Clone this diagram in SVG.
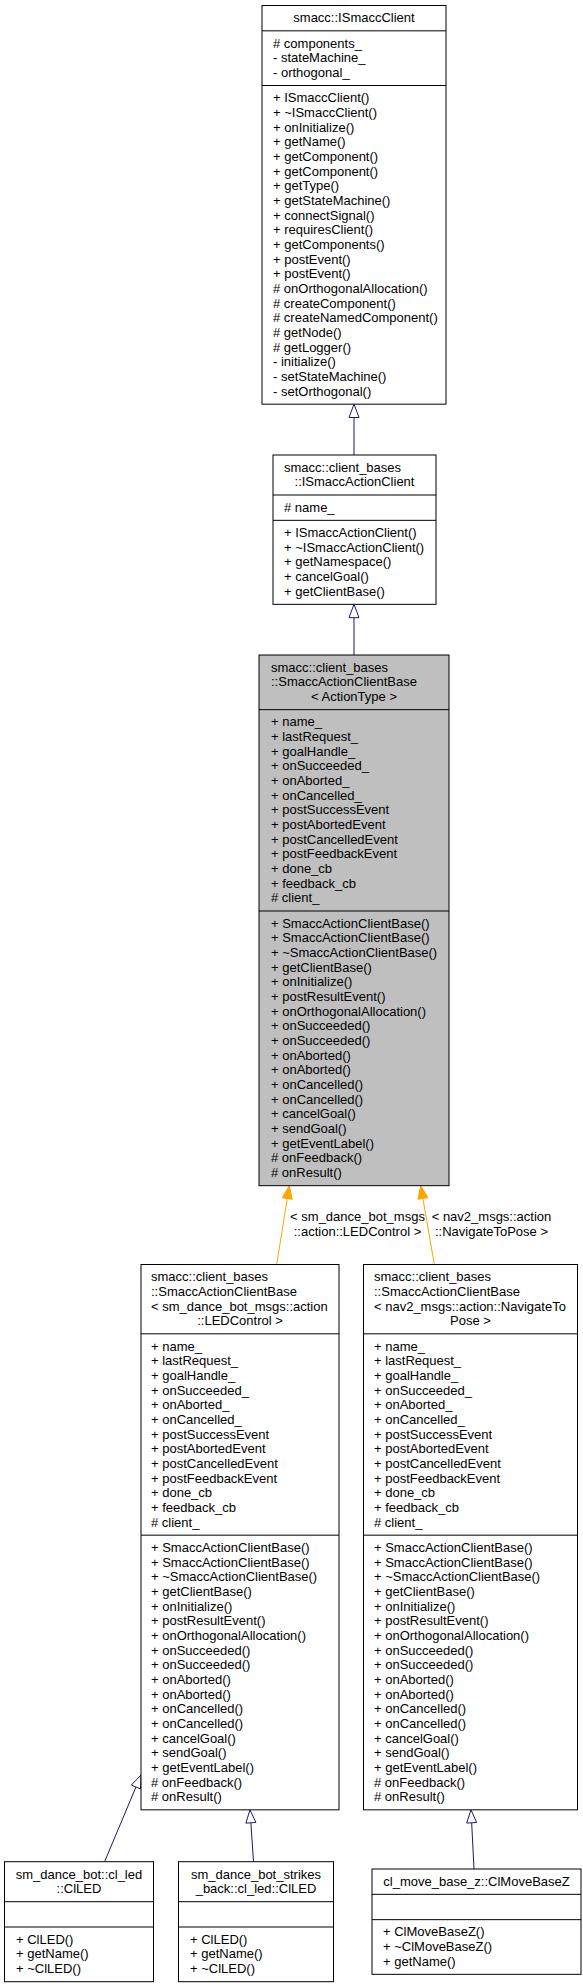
<svg xmlns="http://www.w3.org/2000/svg" width="583" height="1987" viewBox="0 0 583 1987">
<style>
text{font-family:"Liberation Sans",Arial,Helvetica,sans-serif;font-size:13px;fill:#000}
.box{fill:#fff;stroke:#000;stroke-width:1}
.gray{fill:#bfbfbf;stroke:#000;stroke-width:1}
.sep{stroke:#000;stroke-width:1;fill:none}
.c{text-anchor:middle}
.inh{stroke:#191970;stroke-width:1;fill:none}
.inhhead{stroke:#191970;stroke-width:1;fill:#fff}
.tpl{stroke:#FFA500;stroke-width:1;fill:none}
.tplhead{stroke:#FFA500;stroke-width:1;fill:#FFA500}
</style>
<rect width="583" height="1987" fill="#fff"/>
<g id="connectors">
<line class="inh" x1="354" y1="417.5" x2="354" y2="455"/>
<polygon class="inhhead" points="354,404.2 359,417.5 349,417.5"/>
<line class="inh" x1="354" y1="617.7" x2="354" y2="655"/>
<polygon class="inhhead" points="354,604.3 359,617.7 349,617.7"/>
<line class="tpl" x1="276.7" y1="1264.5" x2="287.25" y2="1198.5"/>
<polygon class="tplhead" points="289.3,1185.7 292.19,1199.3 282.31,1197.7"/>
<line class="tpl" x1="434.3" y1="1264.5" x2="422.9" y2="1198.5"/>
<polygon class="tplhead" points="420.7,1185.7 427.84,1197.62 417.98,1199.32"/>
<text class="c" x="357.5" y="1221">&lt; sm_dance_bot_msgs</text>
<text class="c" x="357.5" y="1236">::action::LEDControl &gt;</text>
<text class="c" x="491.5" y="1221">&lt; nav2_msgs::action</text>
<text class="c" x="491.5" y="1236">::NavigateToPose &gt;</text>
<line class="inh" x1="135.97" y1="1787" x2="104.6" y2="1861.7"/>
<polygon class="inhhead" points="141,1775 140.58,1788.93 131.36,1785.05"/>
<line class="inh" x1="250.87" y1="1822.8" x2="253.5" y2="1861.7"/>
<polygon class="inhhead" points="250,1809.8 255.86,1822.46 245.88,1823.14"/>
<line class="inh" x1="471.66" y1="1822.8" x2="474" y2="1869"/>
<polygon class="inhhead" points="471,1809.8 476.65,1822.56 466.67,1823.06"/>
</g>
<g id="node_ISmaccClient">
<rect class="box" x="262" y="5.5" width="184" height="398.67"/>
<line class="sep" x1="262" y1="30.83" x2="446" y2="30.83"/>
<line class="sep" x1="262" y1="85.5" x2="446" y2="85.5"/>
<text class="c" x="354" y="22.3">smacc::ISmaccClient</text>
<text><tspan x="273" y="47.63"># components_</tspan><tspan x="273" dy="14.667">- stateMachine_</tspan><tspan x="273" dy="14.667">- orthogonal_</tspan></text>
<text><tspan x="273" y="102.3">+ ISmaccClient()</tspan><tspan x="273" dy="14.667">+ ~ISmaccClient()</tspan><tspan x="273" dy="14.667">+ onInitialize()</tspan><tspan x="273" dy="14.667">+ getName()</tspan><tspan x="273" dy="14.667">+ getComponent()</tspan><tspan x="273" dy="14.667">+ getComponent()</tspan><tspan x="273" dy="14.667">+ getType()</tspan><tspan x="273" dy="14.667">+ getStateMachine()</tspan><tspan x="273" dy="14.667">+ connectSignal()</tspan><tspan x="273" dy="14.667">+ requiresClient()</tspan><tspan x="273" dy="14.667">+ getComponents()</tspan><tspan x="273" dy="14.667">+ postEvent()</tspan><tspan x="273" dy="14.667">+ postEvent()</tspan><tspan x="273" dy="14.667"># onOrthogonalAllocation()</tspan><tspan x="273" dy="14.667"># createComponent()</tspan><tspan x="273" dy="14.667"># createNamedComponent()</tspan><tspan x="273" dy="14.667"># getNode()</tspan><tspan x="273" dy="14.667"># getLogger()</tspan><tspan x="273" dy="14.667">- initialize()</tspan><tspan x="273" dy="14.667">- setStateMachine()</tspan><tspan x="273" dy="14.667">- setOrthogonal()</tspan></text>
</g>
<g id="node_ISmaccActionClient">
<rect class="box" x="273" y="455" width="163" height="149.33"/>
<line class="sep" x1="273" y1="495" x2="436" y2="495"/>
<line class="sep" x1="273" y1="520.33" x2="436" y2="520.33"/>
<text x="284" y="471.8">smacc::client_bases</text>
<text class="c" x="354.5" y="486.47">::ISmaccActionClient</text>
<text x="284" y="512.13"># name_</text>
<text><tspan x="284" y="537.13">+ ISmaccActionClient()</tspan><tspan x="284" dy="14.667">+ ~ISmaccActionClient()</tspan><tspan x="284" dy="14.667">+ getNamespace()</tspan><tspan x="284" dy="14.667">+ cancelGoal()</tspan><tspan x="284" dy="14.667">+ getClientBase()</tspan></text>
</g>
<g id="node_SmaccActionClientBase">
<rect class="gray" x="259" y="655" width="190" height="530.67"/>
<line class="sep" x1="259" y1="709.67" x2="449" y2="709.67"/>
<line class="sep" x1="259" y1="911" x2="449" y2="911"/>
<text x="271" y="671.8">smacc::client_bases</text>
<text x="271" y="686.47">::SmaccActionClientBase</text>
<text class="c" x="354" y="701.13">&lt; ActionType &gt;</text>
<text><tspan x="271" y="726.47">+ name_</tspan><tspan x="271" dy="14.667">+ lastRequest_</tspan><tspan x="271" dy="14.667">+ goalHandle_</tspan><tspan x="271" dy="14.667">+ onSucceeded_</tspan><tspan x="271" dy="14.667">+ onAborted_</tspan><tspan x="271" dy="14.667">+ onCancelled_</tspan><tspan x="271" dy="14.667">+ postSuccessEvent</tspan><tspan x="271" dy="14.667">+ postAbortedEvent</tspan><tspan x="271" dy="14.667">+ postCancelledEvent</tspan><tspan x="271" dy="14.667">+ postFeedbackEvent</tspan><tspan x="271" dy="14.667">+ done_cb</tspan><tspan x="271" dy="14.667">+ feedback_cb</tspan><tspan x="271" dy="14.667"># client_</tspan></text>
<text><tspan x="271" y="927.8">+ SmaccActionClientBase()</tspan><tspan x="271" dy="14.667">+ SmaccActionClientBase()</tspan><tspan x="271" dy="14.667">+ ~SmaccActionClientBase()</tspan><tspan x="271" dy="14.667">+ getClientBase()</tspan><tspan x="271" dy="14.667">+ onInitialize()</tspan><tspan x="271" dy="14.667">+ postResultEvent()</tspan><tspan x="271" dy="14.667">+ onOrthogonalAllocation()</tspan><tspan x="271" dy="14.667">+ onSucceeded()</tspan><tspan x="271" dy="14.667">+ onSucceeded()</tspan><tspan x="271" dy="14.667">+ onAborted()</tspan><tspan x="271" dy="14.667">+ onAborted()</tspan><tspan x="271" dy="14.667">+ onCancelled()</tspan><tspan x="271" dy="14.667">+ onCancelled()</tspan><tspan x="271" dy="14.667">+ cancelGoal()</tspan><tspan x="271" dy="14.667">+ sendGoal()</tspan><tspan x="271" dy="14.667">+ getEventLabel()</tspan><tspan x="271" dy="14.667"># onFeedback()</tspan><tspan x="271" dy="14.667"># onResult()</tspan></text>
</g>
<g id="node_SmaccActionClientBase_LEDControl">
<rect class="box" x="141" y="1264.5" width="198" height="545.33"/>
<line class="sep" x1="141" y1="1333.83" x2="339" y2="1333.83"/>
<line class="sep" x1="141" y1="1535.17" x2="339" y2="1535.17"/>
<text><tspan x="151" y="1281.3">smacc::client_bases</tspan><tspan x="151" dy="14.667">::SmaccActionClientBase</tspan><tspan x="151" dy="14.667">&lt; sm_dance_bot_msgs::action</tspan></text>
<text class="c" x="240" y="1325.3">::LEDControl &gt;</text>
<text><tspan x="151" y="1350.63">+ name_</tspan><tspan x="151" dy="14.667">+ lastRequest_</tspan><tspan x="151" dy="14.667">+ goalHandle_</tspan><tspan x="151" dy="14.667">+ onSucceeded_</tspan><tspan x="151" dy="14.667">+ onAborted_</tspan><tspan x="151" dy="14.667">+ onCancelled_</tspan><tspan x="151" dy="14.667">+ postSuccessEvent</tspan><tspan x="151" dy="14.667">+ postAbortedEvent</tspan><tspan x="151" dy="14.667">+ postCancelledEvent</tspan><tspan x="151" dy="14.667">+ postFeedbackEvent</tspan><tspan x="151" dy="14.667">+ done_cb</tspan><tspan x="151" dy="14.667">+ feedback_cb</tspan><tspan x="151" dy="14.667"># client_</tspan></text>
<text><tspan x="151" y="1551.97">+ SmaccActionClientBase()</tspan><tspan x="151" dy="14.667">+ SmaccActionClientBase()</tspan><tspan x="151" dy="14.667">+ ~SmaccActionClientBase()</tspan><tspan x="151" dy="14.667">+ getClientBase()</tspan><tspan x="151" dy="14.667">+ onInitialize()</tspan><tspan x="151" dy="14.667">+ postResultEvent()</tspan><tspan x="151" dy="14.667">+ onOrthogonalAllocation()</tspan><tspan x="151" dy="14.667">+ onSucceeded()</tspan><tspan x="151" dy="14.667">+ onSucceeded()</tspan><tspan x="151" dy="14.667">+ onAborted()</tspan><tspan x="151" dy="14.667">+ onAborted()</tspan><tspan x="151" dy="14.667">+ onCancelled()</tspan><tspan x="151" dy="14.667">+ onCancelled()</tspan><tspan x="151" dy="14.667">+ cancelGoal()</tspan><tspan x="151" dy="14.667">+ sendGoal()</tspan><tspan x="151" dy="14.667">+ getEventLabel()</tspan><tspan x="151" dy="14.667"># onFeedback()</tspan><tspan x="151" dy="14.667"># onResult()</tspan></text>
</g>
<g id="node_SmaccActionClientBase_NavigateToPose">
<rect class="box" x="363.5" y="1264.5" width="214" height="545.33"/>
<line class="sep" x1="363.5" y1="1333.83" x2="577.5" y2="1333.83"/>
<line class="sep" x1="363.5" y1="1535.17" x2="577.5" y2="1535.17"/>
<text><tspan x="374" y="1281.3">smacc::client_bases</tspan><tspan x="374" dy="14.667">::SmaccActionClientBase</tspan><tspan x="374" dy="14.667">&lt; nav2_msgs::action::NavigateTo</tspan></text>
<text class="c" x="470.5" y="1325.3">Pose &gt;</text>
<text><tspan x="374" y="1350.63">+ name_</tspan><tspan x="374" dy="14.667">+ lastRequest_</tspan><tspan x="374" dy="14.667">+ goalHandle_</tspan><tspan x="374" dy="14.667">+ onSucceeded_</tspan><tspan x="374" dy="14.667">+ onAborted_</tspan><tspan x="374" dy="14.667">+ onCancelled_</tspan><tspan x="374" dy="14.667">+ postSuccessEvent</tspan><tspan x="374" dy="14.667">+ postAbortedEvent</tspan><tspan x="374" dy="14.667">+ postCancelledEvent</tspan><tspan x="374" dy="14.667">+ postFeedbackEvent</tspan><tspan x="374" dy="14.667">+ done_cb</tspan><tspan x="374" dy="14.667">+ feedback_cb</tspan><tspan x="374" dy="14.667"># client_</tspan></text>
<text><tspan x="374" y="1551.97">+ SmaccActionClientBase()</tspan><tspan x="374" dy="14.667">+ SmaccActionClientBase()</tspan><tspan x="374" dy="14.667">+ ~SmaccActionClientBase()</tspan><tspan x="374" dy="14.667">+ getClientBase()</tspan><tspan x="374" dy="14.667">+ onInitialize()</tspan><tspan x="374" dy="14.667">+ postResultEvent()</tspan><tspan x="374" dy="14.667">+ onOrthogonalAllocation()</tspan><tspan x="374" dy="14.667">+ onSucceeded()</tspan><tspan x="374" dy="14.667">+ onSucceeded()</tspan><tspan x="374" dy="14.667">+ onAborted()</tspan><tspan x="374" dy="14.667">+ onAborted()</tspan><tspan x="374" dy="14.667">+ onCancelled()</tspan><tspan x="374" dy="14.667">+ onCancelled()</tspan><tspan x="374" dy="14.667">+ cancelGoal()</tspan><tspan x="374" dy="14.667">+ sendGoal()</tspan><tspan x="374" dy="14.667">+ getEventLabel()</tspan><tspan x="374" dy="14.667"># onFeedback()</tspan><tspan x="374" dy="14.667"># onResult()</tspan></text>
</g>
<g id="node_sm_dance_bot_ClLED">
<rect class="box" x="4.5" y="1861.7" width="149" height="120"/>
<line class="sep" x1="4.5" y1="1901.7" x2="153.5" y2="1901.7"/>
<line class="sep" x1="4.5" y1="1927" x2="153.5" y2="1927"/>
<text class="c" x="79" y="1878.5">sm_dance_bot::cl_led</text>
<text class="c" x="79" y="1893.17">::ClLED</text>
<text><tspan x="16" y="1943.8">+ ClLED()</tspan><tspan x="16" dy="14.667">+ getName()</tspan><tspan x="16" dy="14.667">+ ~ClLED()</tspan></text>
</g>
<g id="node_sm_dance_bot_strikes_back_ClLED">
<rect class="box" x="178.5" y="1861.7" width="155" height="120"/>
<line class="sep" x1="178.5" y1="1901.7" x2="333.5" y2="1901.7"/>
<line class="sep" x1="178.5" y1="1927" x2="333.5" y2="1927"/>
<text class="c" x="256" y="1878.5">sm_dance_bot_strikes</text>
<text class="c" x="256" y="1893.17">_back::cl_led::ClLED</text>
<text><tspan x="190" y="1943.8">+ ClLED()</tspan><tspan x="190" dy="14.667">+ getName()</tspan><tspan x="190" dy="14.667">+ ~ClLED()</tspan></text>
</g>
<g id="node_ClMoveBaseZ">
<rect class="box" x="372" y="1869" width="209" height="105.33"/>
<line class="sep" x1="372" y1="1894.33" x2="581" y2="1894.33"/>
<line class="sep" x1="372" y1="1919.67" x2="581" y2="1919.67"/>
<text class="c" x="476.5" y="1885.8">cl_move_base_z::ClMoveBaseZ</text>
<text><tspan x="383" y="1936.47">+ ClMoveBaseZ()</tspan><tspan x="383" dy="14.667">+ ~ClMoveBaseZ()</tspan><tspan x="383" dy="14.667">+ getName()</tspan></text>
</g>
</svg>
